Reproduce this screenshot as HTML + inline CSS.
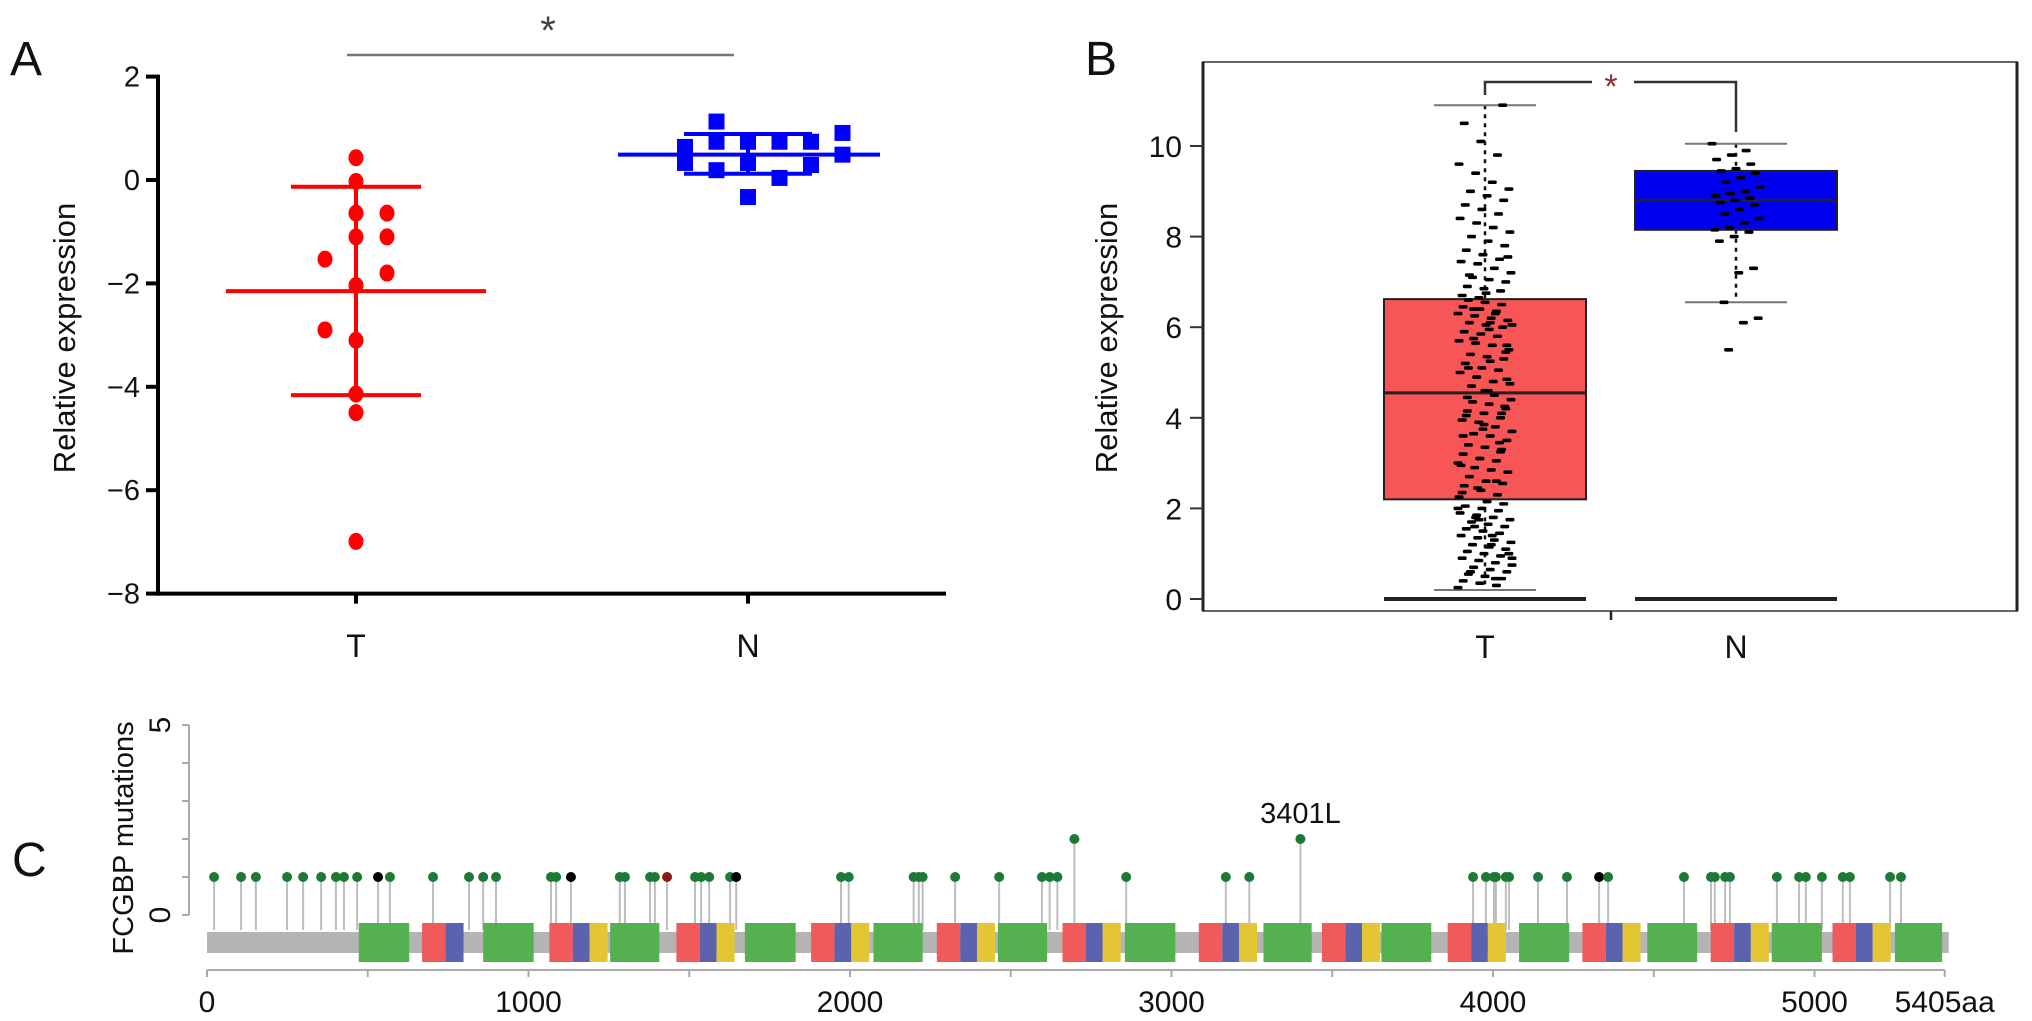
<!DOCTYPE html>
<html><head><meta charset="utf-8"><title>FCGBP expression</title>
<style>
html,body{margin:0;padding:0;background:#fff;}
svg{display:block;font-family:"Liberation Sans",Arial,sans-serif;}
</style></head>
<body>
<svg id="fig" width="2032" height="1021" viewBox="0 0 2032 1021" xmlns="http://www.w3.org/2000/svg">
<rect width="2032" height="1021" fill="#fff"/>
<g id="panelA"></g>
<g id="panelB"></g>
<g id="panelC"></g>
</svg>
<script>
// ---------- Panel A data ----------
const aCategories = ["T", "N"];
const aTumorValues = [0.43, -0.03, -0.64, -0.64, -1.1, -1.1, -1.53, -1.8, -2.04, -2.9, -3.1, -4.14, -4.5, -6.99];
const aTumorCol = [0, 0, 0, 1, 0, 1, -1, 1, 0, -1, 0, 0, 0, 0];
const aTumorMean = -2.15, aTumorSDhi = -0.13, aTumorSDlo = -4.16;
const aNormalValues = [1.13, 0.64, 0.33, 0.91, 0.49, 0.74, 0.19, 0.74, 0.33, 0.74, 0.04, 0.74, 0.29, -0.33];
const aNormalCol = [-1, -2, -2, 3, 3, -1, -1, 0, 0, 1, 1, 2, 2, 0];
const aNormalMean = 0.49, aNormalSDhi = 0.89, aNormalSDlo = 0.12;
const aTicks = [2, 0, -2, -4, -6, -8];
const aTickLabels = ["2", "0", "\u22122", "\u22124", "\u22126", "\u22128"];

// ---------- Panel B data ----------
const bCategories = ["T", "N"];
const bTicks = [0, 2, 4, 6, 8, 10];
const bTumorBox = [0.2, 2.2, 4.55, 6.62, 10.9];   // whiskerLo, q1, median, q3, whiskerHi
const bNormalBox = [6.55, 8.15, 8.8, 9.45, 10.05];
const bTumorPoints = [0.25,0.3,0.35,0.4,0.45,0.5,0.55,0.6,0.65,0.7,0.75,0.8,0.85,0.9,0.95,1.0,1.05,1.1,1.15,1.2,1.25,1.3,1.35,1.4,1.45,1.5,1.55,1.6,1.65,1.7,1.75,1.8,1.85,1.9,1.95,2.0,2.05,2.1,2.15,0.6,1.0,1.4,1.8,
2.25,2.3,2.4,2.5,2.55,2.6,2.7,2.8,2.85,2.9,3.0,3.05,3.1,3.2,3.3,3.35,3.4,3.5,3.6,3.65,3.7,3.8,3.9,3.95,4.0,4.1,4.15,4.2,4.3,4.35,4.4,4.5,2.45,2.95,3.45,3.75,4.05,4.25,
4.6,4.7,4.75,4.8,4.9,5.0,5.05,5.1,5.2,5.3,5.35,5.4,5.5,5.6,5.65,5.7,5.8,5.85,5.9,6.0,6.05,6.1,6.15,6.2,6.25,6.3,6.35,6.4,6.45,6.5,6.55,6.6,4.85,5.25,5.75,6.05,6.3,
6.65,6.7,6.8,6.85,6.9,7.0,7.05,7.1,7.2,7.3,7.4,7.45,7.5,7.6,7.7,7.8,7.9,8.0,8.1,8.2,8.3,8.4,8.5,8.6,8.7,8.8,8.9,9.0,9.05,9.2,9.4,9.6,9.8,10.1,10.5,10.9,6.75,7.15,7.55,
1.2,1.6,2.0,2.6,3.1,3.6,4.1,4.6,5.1,5.6,6.1,6.4,0.9,0.45,1.75,2.35,3.25,3.85,4.45,5.45,5.95];
const bNormalPoints = [10.05,9.9,9.8,9.7,9.6,9.5,9.45,9.4,9.3,9.2,9.1,9.0,8.95,8.9,8.85,8.8,8.75,8.7,8.6,8.5,8.4,8.3,8.2,8.15,8.1,8.0,7.9,7.3,7.2,6.55,6.2,6.1,5.5];

// ---------- Panel C data ----------
const cProteinLength = 5405;
const cXTicks = [0, 1000, 2000, 3000, 4000, 5000];
const cXMinorTicks = [500, 1500, 2500, 3500, 4500];
const cMutPos = [22,106,152,249,299,355,401,426,467,532,569,703,815,859,899,1070,1086,1132,1284,1300,1378,1393,1431,1518,1537,1562,1627,1646,
1972,1996,2198,2214,2226,2327,2464,2597,2621,2645,2698,2859,3169,3242,3401,
3938,3978,4003,4009,4040,4050,4140,4230,4330,4358,4594,4678,4690,4722,4737,4883,4952,4973,5023,5088,5110,5235,5269];
const cMutCount = [1,1,1,1,1,1,1,1,1,1,1,1,1,1,1,1,1,1,1,1,1,1,1,1,1,1,1,1,
1,1,1,1,1,1,1,1,1,1,2,1,1,1,2,
1,1,1,1,1,1,1,1,1,1,1,1,1,1,1,1,1,1,1,1,1,1,1];
const cMutType = ["g","g","g","g","g","g","g","g","g","k","g","g","g","g","g","g","g","k","g","g","g","g","r","g","g","g","g","k",
"g","g","g","g","g","g","g","g","g","g","g","g","g","g","g",
"g","g","g","g","g","g","g","g","k","g","g","g","g","g","g","g","g","g","g","g","g","g","g"];
const cDomainStart = [472,669,742,859,1065,1138,1190,1254,1460,1533,1585,1673,1879,1952,2004,2073,2270,2343,2395,2460,2661,2734,2786,2855,3085,3158,3210,3286,3468,3541,3593,3653,3859,3932,3984,4081,4278,4351,4403,4480,4677,4750,4802,4867,5056,5129,5181,5250];
const cDomainEnd   = [629,742,798,1016,1138,1190,1246,1407,1533,1585,1641,1831,1952,2004,2060,2226,2343,2395,2451,2613,2734,2786,2842,3012,3158,3210,3266,3436,3541,3593,3649,3808,3932,3984,4040,4237,4351,4403,4459,4635,4750,4802,4858,5023,5129,5181,5237,5397];
const cDomainType  = ["g","r","b","g","r","b","y","g","r","b","y","g","r","b","y","g","r","b","y","g","r","b","y","g","r","b","y","g","r","b","y","g","r","b","y","g","r","b","y","g","r","b","y","g","r","b","y","g"];
const cYTicks = [0,1,2,3,4,5];
const cLabelPos = 3401, cLabelText = "3401L";

const NS = "http://www.w3.org/2000/svg";
function mk(parent, tag, attrs, text) {
  const el = document.createElementNS(NS, tag);
  for (const k in attrs) el.setAttribute(k, attrs[k]);
  if (text !== undefined) el.textContent = text;
  parent.appendChild(el);
  return el;
}

// ================= PANEL A =================
const gA = document.getElementById("panelA");
const yA = v => 180 - v * 51.7;
const xA = c => c === "T" ? 356 : 748;
let el;
el = mk(gA, "text", {x: 10, y: 75, "font-size": 48, fill: "#111"}, "A");


el = mk(gA, "line", {x1: 158, y1: yA(2) - 2, x2: 158, y2: yA(-8) + 2, stroke: "#000", "stroke-width": 4});


el = mk(gA, "line", {x1: 156, y1: yA(-8), x2: 946, y2: yA(-8), stroke: "#000", "stroke-width": 4});


aTicks.forEach((t, i) => {
  let tk = mk(gA, "line", {x1: 146, y1: yA(t), x2: 158, y2: yA(t), stroke: "#000", "stroke-width": 4});
  
  
  let lb = mk(gA, "text", {x: 140, y: yA(t) + 10, "font-size": 29, "text-anchor": "end", fill: "#111"}, aTickLabels[i]);
  
  
});
aCategories.forEach(c => {
  let tk = mk(gA, "line", {x1: xA(c), y1: yA(-8), x2: xA(c), y2: yA(-8) + 10, stroke: "#000", "stroke-width": 4});
  
  
  let lb = mk(gA, "text", {x: xA(c), y: 657, "font-size": 32, "text-anchor": "middle", fill: "#111"}, c);
  
  
});
el = mk(gA, "text", {x: 0, y: 0, "font-size": 31, "text-anchor": "middle", fill: "#111", transform: "translate(75,338) rotate(-90)"}, "Relative expression");


el = mk(gA, "line", {x1: 347, y1: 55, x2: 734, y2: 55, stroke: "#777", "stroke-width": 2.5});


el = mk(gA, "text", {x: 548, y: 44, "font-size": 40, "text-anchor": "middle", fill: "#444"}, "*");



// tumor points + error bars
const cxT = xA("T");
aTumorValues.forEach((v, i) => {
  let p = mk(gA, "ellipse", {cx: cxT + aTumorCol[i] * 31, cy: yA(v), rx: 7.5, ry: 8.5, fill: "#ff0000"});
  
  
});
el = mk(gA, "line", {x1: cxT, y1: yA(aTumorSDhi), x2: cxT, y2: yA(aTumorSDlo), stroke: "#ff0000", "stroke-width": 4});


el = mk(gA, "line", {x1: cxT - 130, y1: yA(aTumorMean), x2: cxT + 130, y2: yA(aTumorMean), stroke: "#ff0000", "stroke-width": 4});


[aTumorSDhi, aTumorSDlo].forEach(v => {
  let c = mk(gA, "line", {x1: cxT - 65, y1: yA(v), x2: cxT + 65, y2: yA(v), stroke: "#ff0000", "stroke-width": 4});
  
  
});
// normal points + error bars
const cxN = xA("N");
aNormalValues.forEach((v, i) => {
  let p = mk(gA, "rect", {x: cxN + aNormalCol[i] * 31.5 - 8, y: yA(v) - 8, width: 16, height: 16, fill: "#0000ff"});
  
  
});
el = mk(gA, "line", {x1: cxN, y1: yA(aNormalSDhi), x2: cxN, y2: yA(aNormalSDlo), stroke: "#0000ff", "stroke-width": 4});


el = mk(gA, "line", {x1: cxN - 130, y1: yA(aNormalMean), x2: cxN + 132, y2: yA(aNormalMean), stroke: "#0000ff", "stroke-width": 4});


[aNormalSDhi, aNormalSDlo].forEach(v => {
  let c = mk(gA, "line", {x1: cxN - 64, y1: yA(v), x2: cxN + 64, y2: yA(v), stroke: "#0000ff", "stroke-width": 4});
  
  
});

// ================= PANEL B =================
const gB = document.getElementById("panelB");
const yB = v => 599 - v * 45.3;
const xB = c => c === "T" ? 1485 : 1736;
el = mk(gB, "text", {x: 1085, y: 75, "font-size": 48, fill: "#111"}, "B");


el = mk(gB, "rect", {x: 1203, y: 62, width: 814, height: 549, fill: "none", stroke: "#666", "stroke-width": 2});


el = mk(gB, "line", {x1: 1203, y1: 62, x2: 1203, y2: 611, stroke: "#222", "stroke-width": 3});


el = mk(gB, "line", {x1: 2017, y1: 62, x2: 2017, y2: 611, stroke: "#222", "stroke-width": 3});


el = mk(gB, "line", {x1: 1611, y1: 611, x2: 1611, y2: 620, stroke: "#222", "stroke-width": 2.5});


bTicks.forEach(t => {
  let tk = mk(gB, "line", {x1: 1190, y1: yB(t), x2: 1203, y2: yB(t), stroke: "#333", "stroke-width": 2});
  
  
  let lb = mk(gB, "text", {x: 1182, y: yB(t) + 11, "font-size": 30, "text-anchor": "end", fill: "#111"}, String(t));
  
  
});
bCategories.forEach(c => {
  let lb = mk(gB, "text", {x: xB(c), y: 658, "font-size": 32, "text-anchor": "middle", fill: "#111"}, c);
  
  
});
el = mk(gB, "text", {x: 0, y: 0, "font-size": 31, "text-anchor": "middle", fill: "#111", transform: "translate(1117,338) rotate(-90)"}, "Relative expression");



function drawBox(g, stats, cx, halfW, capHalf, fill, name) {
  const [wlo, q1, med, q3, whi] = stats;
  let z = mk(g, "line", {x1: cx - halfW, y1: yB(0), x2: cx + halfW, y2: yB(0), stroke: "#222", "stroke-width": 4});
  
  
  let w1 = mk(g, "line", {x1: cx, y1: yB(whi), x2: cx, y2: yB(q3), stroke: "#111", "stroke-width": 2.5, "stroke-dasharray": "4 5"});
  
  
  let w2 = mk(g, "line", {x1: cx, y1: yB(q1), x2: cx, y2: yB(wlo), stroke: "#111", "stroke-width": 2.5, "stroke-dasharray": "4 5"});
  
  
  [whi, wlo].forEach(v => {
    let c = mk(g, "line", {x1: cx - capHalf, y1: yB(v), x2: cx + capHalf, y2: yB(v), stroke: "#777", "stroke-width": 2});
    
    
  });
  let b = mk(g, "rect", {x: cx - halfW, y: yB(q3), width: halfW * 2, height: yB(q1) - yB(q3), fill: fill, stroke: "#222", "stroke-width": 2});
  
  
  let m = mk(g, "line", {x1: cx - halfW, y1: yB(med), x2: cx + halfW, y2: yB(med), stroke: "#222", "stroke-width": 3});
  
  
}
drawBox(gB, bTumorBox, xB("T"), 101, 51, "#f85656", "b-tumor");
drawBox(gB, bNormalBox, xB("N"), 101, 51, "#0000ee", "b-normal");

function drawJitter(g, vals, cx, spread, name) {
  vals.forEach((v, i) => {
    const off = ((i * 37) % 53) / 52 * 2 * spread - spread;
    let d = mk(g, "rect", {x: cx + off - 4.5, y: yB(v) - 1.8, width: 9, height: 3.6, rx: 1.5, fill: "#000"});
    
    
  });
}
drawJitter(gB, bTumorPoints, xB("T"), 27, "b-tumor-point");
drawJitter(gB, bNormalPoints, xB("N"), 24, "b-normal-point");

el = mk(gB, "polyline", {points: `${xB("T")},95 ${xB("T")},82 1592,82`, fill: "none", stroke: "#333", "stroke-width": 2.5});


el = mk(gB, "polyline", {points: `1634,82 ${xB("N")},82 ${xB("N")},132`, fill: "none", stroke: "#333", "stroke-width": 2.5});


el = mk(gB, "text", {x: 1611, y: 98, "font-size": 34, "text-anchor": "middle", fill: "#8a3030"}, "*");



// ================= PANEL C =================
const gC = document.getElementById("panelC");
const xC = aa => 207 + aa * 0.3215;
const yC = n => 915 - n * 38;
el = mk(gC, "text", {x: 12, y: 876, "font-size": 48, fill: "#111"}, "C");


el = mk(gC, "text", {x: 0, y: 0, "font-size": 29, "text-anchor": "middle", fill: "#111", transform: "translate(133,838) rotate(-90)"}, "FCGBP mutations");


el = mk(gC, "line", {x1: 189, y1: yC(5), x2: 189, y2: yC(0), stroke: "#aaa", "stroke-width": 2});


cYTicks.forEach(t => {
  let tk = mk(gC, "line", {x1: 182, y1: yC(t), x2: 189, y2: yC(t), stroke: "#aaa", "stroke-width": 2});
  
  
});
[0, 5].forEach(t => {
  let lb = mk(gC, "text", {x: 0, y: 0, "font-size": 30, "text-anchor": "middle", fill: "#111", transform: `translate(170,${yC(t)}) rotate(-90)`}, String(t));
  
  
});
// x axis
el = mk(gC, "line", {x1: xC(0), y1: 970, x2: xC(cProteinLength), y2: 970, stroke: "#aaa", "stroke-width": 2});


cXTicks.concat(cXMinorTicks, [cProteinLength]).forEach(t => {
  let tk = mk(gC, "line", {x1: xC(t), y1: 970, x2: xC(t), y2: 977, stroke: "#aaa", "stroke-width": 2});
  
  
});
cXTicks.forEach(t => {
  let lb = mk(gC, "text", {x: xC(t), y: 1012, "font-size": 30, "text-anchor": "middle", fill: "#111"}, String(t));
  
  
});
el = mk(gC, "text", {x: xC(cProteinLength), y: 1012, "font-size": 30, "text-anchor": "middle", fill: "#111"}, cProteinLength + "aa");


// lollipop stems
cMutPos.forEach((p, i) => {
  let s = mk(gC, "line", {x1: xC(p), y1: yC(cMutCount[i]), x2: xC(p), y2: 930, stroke: "#bdbdbd", "stroke-width": 2});
  
  
});
// protein backbone
el = mk(gC, "rect", {x: xC(0), y: 932, width: xC(cProteinLength) - xC(0) + 4, height: 21, fill: "#b4b4b4"});


const domColor = {g: "#55b050", r: "#f05a5a", b: "#5b62ae", y: "#e4c634"};
const domName = {g: "c-domain-vwd", r: "c-domain-c8", b: "c-domain-til", y: "c-domain-vwc"};
cDomainStart.forEach((s, i) => {
  let d = mk(gC, "rect", {x: xC(s), y: 923, width: xC(cDomainEnd[i]) - xC(s), height: 39, fill: domColor[cDomainType[i]]});
  
  
});
// lollipop heads
const headColor = {g: "#1d7a35", k: "#000", r: "#8b1a1a"};
cMutPos.forEach((p, i) => {
  let h = mk(gC, "circle", {cx: xC(p), cy: yC(cMutCount[i]), r: 5, fill: headColor[cMutType[i]]});
  
  
});
const li = cMutPos.indexOf(cLabelPos);
el = mk(gC, "text", {x: xC(cLabelPos), y: yC(cMutCount[li]) - 16, "font-size": 29, "text-anchor": "middle", fill: "#111"}, cLabelText);


</script>
</body></html>
